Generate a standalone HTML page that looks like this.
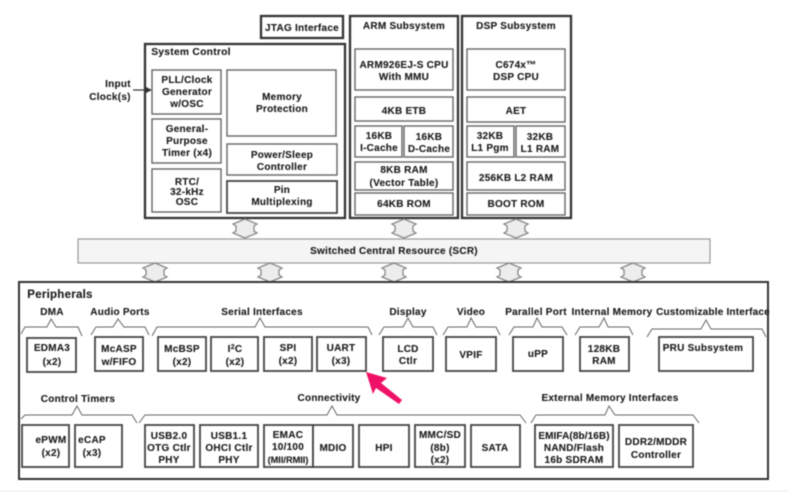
<!DOCTYPE html>
<html>
<head>
<meta charset="utf-8">
<style>
html,body{margin:0;padding:0;background:#fff;width:788px;height:492px;overflow:hidden}
svg{display:block;filter:blur(.45px)}
text{font-family:"Liberation Sans",Arial,sans-serif;font-weight:700;font-size:10px;fill:#1c1c1c;text-anchor:middle;letter-spacing:.25px;stroke:#1c1c1c;stroke-width:.12px}
.b{fill:#fff;stroke:#666;stroke-width:1.4}
.d{fill:#fff;stroke:#444;stroke-width:1.8}
.o{fill:#fff;stroke:#333;stroke-width:2.3}
.br{fill:none;stroke:#666;stroke-width:1}
.c{fill:#ededed;stroke:#888;stroke-width:1.3}
</style>
</head>
<body>
<svg width="788" height="492" viewBox="0 0 788 492" xmlns="http://www.w3.org/2000/svg">
<rect x="0" y="490.5" width="788" height="1.5" fill="#f0f0f0"/>

<!-- top containers -->
<rect class="o" x="261" y="16" width="82" height="22"/>
<text x="302" y="31">JTAG Interface</text>
<rect class="o" x="145" y="44" width="200" height="174"/>
<text x="191" y="55" style="font-size:10.3px">System Control</text>
<rect class="o" x="350" y="16" width="108" height="202"/>
<text x="404" y="29">ARM Subsystem</text>
<rect class="o" x="462" y="16" width="109" height="202"/>
<text x="516" y="29">DSP Subsystem</text>

<!-- system control -->
<rect class="b" x="152" y="70" width="69" height="44"/>
<text x="187" y="83">PLL/Clock</text><text x="187" y="95">Generator</text><text x="187" y="107">w/OSC</text>
<rect class="b" x="152" y="119" width="69" height="44"/>
<text x="187" y="132">General-</text><text x="187" y="144">Purpose</text><text x="187" y="156">Timer (x4)</text>
<rect class="b" x="152" y="169" width="69" height="43"/>
<text x="187" y="185">RTC/</text><text x="187" y="195">32-kHz</text><text x="187" y="205">OSC</text>
<rect class="b" x="227" y="70" width="109" height="66"/>
<text x="282" y="100">Memory</text><text x="282" y="112">Protection</text>
<rect class="b" x="227" y="144" width="110" height="31"/>
<text x="282" y="158">Power/Sleep</text><text x="282" y="170">Controller</text>
<rect class="d" x="227" y="181" width="110" height="32"/>
<text x="282" y="193">Pin</text><text x="282" y="205">Multiplexing</text>

<text x="118" y="87">Input</text><text x="110" y="100">Clock(s)</text>
<line x1="133" y1="90" x2="146" y2="90" stroke="#333" stroke-width="1.2"/>
<polygon points="152,90 144,86 144,94" fill="#333"/>

<!-- ARM -->
<rect class="b" x="355" y="49" width="98" height="41"/>
<text x="404" y="68">ARM926EJ-S CPU</text><text x="404" y="80">With MMU</text>
<rect class="b" x="355" y="97" width="98" height="24"/>
<text x="404" y="114">4KB ETB</text>
<rect class="b" x="355" y="126" width="47" height="31"/>
<text x="379" y="139">16KB</text><text x="379" y="151">I-Cache</text>
<rect class="b" x="404" y="126" width="49" height="31"/>
<text x="429" y="140">16KB</text><text x="429" y="152">D-Cache</text>
<rect class="b" x="355" y="162" width="98" height="28"/>
<text x="404" y="173">8KB RAM</text><text x="404" y="186">(Vector Table)</text>
<rect class="b" x="355" y="193" width="98" height="22"/>
<text x="404" y="207">64KB ROM</text>

<!-- DSP -->
<rect class="b" x="467" y="49" width="98" height="41"/>
<text x="516" y="68">C674x™</text><text x="516" y="80">DSP CPU</text>
<rect class="b" x="467" y="97" width="98" height="25"/>
<text x="516" y="114">AET</text>
<rect class="b" x="467" y="126" width="47" height="31"/>
<text x="490" y="139">32KB</text><text x="490" y="151">L1 Pgm</text>
<rect class="b" x="516" y="126" width="49" height="31"/>
<text x="540" y="140">32KB</text><text x="540" y="152">L1 RAM</text>
<rect class="b" x="467" y="162" width="98" height="28"/>
<text x="516" y="181">256KB L2 RAM</text>
<rect class="b" x="467" y="193" width="98" height="22"/>
<text x="516" y="207">BOOT ROM</text>

<!-- connectors -->
<polygon class="c" points="245,219 257,224 254,226 254,231 257,233 245,238 233,233 236,231 236,226 233,224"/>
<polygon class="c" points="404,219 416,224 413,226 413,231 416,233 404,238 392,233 395,231 395,226 392,224"/>
<polygon class="c" points="516,219 528,224 525,226 525,231 528,233 516,238 504,233 507,231 507,226 504,224"/>

<!-- SCR -->
<rect x="78" y="239" width="632" height="24" fill="#f5f5f5" stroke="#999" stroke-width="1.2"/>
<text x="394" y="254">Switched Central Resource (SCR)</text>

<polygon class="c" points="155,263 167,268 164,270 164,275 167,277 155,282 143,277 146,275 146,270 143,268"/>
<polygon class="c" points="270,263 282,268 279,270 279,275 282,277 270,282 258,277 261,275 261,270 258,268"/>
<polygon class="c" points="394,263 406,268 403,270 403,275 406,277 394,282 382,277 385,275 385,270 382,268"/>
<polygon class="c" points="509,263 521,268 518,270 518,275 521,277 509,282 497,277 500,275 500,270 497,268"/>
<polygon class="c" points="633,263 645,268 642,270 642,275 645,277 633,282 621,277 624,275 624,270 621,268"/>

<!-- peripherals -->
<rect x="19" y="282" width="749" height="197" fill="#fff" stroke="#333" stroke-width="2"/>
<text x="60" y="298" style="font-size:11.5px">Peripherals</text>

<text x="52" y="315">DMA</text>
<text x="120" y="315">Audio Ports</text>
<text x="262" y="315">Serial Interfaces</text>
<text x="408" y="315">Display</text>
<text x="471" y="315">Video</text>
<text x="536" y="315">Parallel Port</text>
<text x="612" y="315">Internal Memory</text>
<text x="713" y="315" style="letter-spacing:.2px">Customizable Interface</text>

<polyline class="br" points="21,334 25,327 47,327 51,319 56,327 78,327 82,336"/>
<polyline class="br" points="91,335 96,327 113,327 118,319 124,327 145,327 149,335"/>
<polyline class="br" points="152,336 157,327 255,327 260,318 265,327 368,327 372,335"/>
<polyline class="br" points="379,335 384,327 403,327 408,318 413,327 433,327 437,335"/>
<polyline class="br" points="443,335 448,327 467,327 471,318 476,327 496,327 500,335"/>
<polyline class="br" points="509,335 514,327 533,327 537,318 542,327 562,327 567,335"/>
<polyline class="br" points="575,335 580,327 599,327 604,318 608,327 629,327 633,335"/>
<polyline class="br" points="647,337 652,329 701,329 706,320 711,329 762,329 766,337"/>

<rect class="d" x="27" y="338" width="49" height="34"/>
<text x="52" y="351">EDMA3</text><text x="52" y="365">(x2)</text>
<rect class="d" x="95" y="337" width="48" height="34"/>
<text x="119" y="352">McASP</text><text x="119" y="365">w/FIFO</text>
<rect class="d" x="158" y="337" width="48" height="34"/>
<text x="182" y="352">McBSP</text><text x="182" y="365">(x2)</text>
<rect class="d" x="211" y="337" width="47" height="34"/>
<text x="235" y="352">I<tspan dy="-3" style="font-size:7px">2</tspan><tspan dy="3">C</tspan></text><text x="235" y="365">(x2)</text>
<rect class="d" x="264" y="337" width="48" height="34"/>
<text x="288" y="351">SPI</text><text x="288" y="364">(x2)</text>
<rect class="d" x="317" y="337" width="49" height="34"/>
<text x="341" y="351">UART</text><text x="341" y="364">(x3)</text>
<rect class="d" x="383" y="337" width="50" height="34"/>
<text x="408" y="352">LCD</text><text x="408" y="364">Ctlr</text>
<rect class="d" x="446" y="337" width="50" height="34"/>
<text x="471" y="358">VPIF</text>
<rect class="d" x="513" y="337" width="50" height="34"/>
<text x="538" y="357">uPP</text>
<rect class="d" x="580" y="337" width="49" height="34"/>
<text x="604" y="352">128KB</text><text x="604" y="364">RAM</text>
<rect class="d" x="659" y="337" width="94" height="34"/>
<text x="703" y="351">PRU Subsystem</text>

<text x="78" y="402">Control Timers</text>
<text x="329" y="401">Connectivity</text>
<text x="610" y="401">External Memory Interfaces</text>

<polyline class="br" points="21,419 25,415 72,415 77,406 82,415 132,415 137,423"/>
<polyline class="br" points="139,423 145,415 327,415 332,406 337,415 520,415 526,423"/>
<polyline class="br" points="531,423 536,415 605,415 609,406 615,415 693,415 699,423"/>

<rect class="d" x="22" y="425" width="47" height="42"/>
<text x="51" y="443">ePWM</text><text x="51" y="456">(x2)</text>
<rect class="d" x="75" y="425" width="47" height="42"/>
<text x="92" y="443">eCAP</text><text x="92" y="456">(x3)</text>
<rect class="d" x="145" y="425" width="49" height="42"/>
<text x="169" y="439">USB2.0</text><text x="169" y="451">OTG Ctlr</text><text x="169" y="463">PHY</text>
<rect class="d" x="200" y="425" width="58" height="42"/>
<text x="229" y="439">USB1.1</text><text x="229" y="451">OHCI Ctlr</text><text x="229" y="463">PHY</text>
<rect class="d" x="264" y="425" width="49" height="42"/>
<text x="288" y="438">EMAC</text><text x="288" y="450">10/100</text><text x="288" y="463" style="font-size:9.2px;letter-spacing:0">(MII/RMII)</text>
<rect class="d" x="313" y="425" width="40" height="42"/>
<text x="333" y="451">MDIO</text>
<rect class="d" x="359" y="425" width="50" height="42"/>
<text x="384" y="451">HPI</text>
<rect class="d" x="415" y="425" width="50" height="42"/>
<text x="440" y="438">MMC/SD</text><text x="440" y="451">(8b)</text><text x="440" y="463">(x2)</text>
<rect class="d" x="471" y="425" width="49" height="42"/>
<text x="495" y="451">SATA</text>
<rect class="d" x="535" y="425" width="78" height="42"/>
<text x="574" y="439" style="letter-spacing:.1px">EMIFA(8b/16B)</text><text x="574" y="451">NAND/Flash</text><text x="574" y="463">16b SDRAM</text>
<rect class="d" x="619" y="425" width="74" height="42"/>
<text x="656" y="445">DDR2/MDDR</text><text x="656" y="458">Controller</text>

<!-- pink arrow -->
<polygon points="366,372 387,378 381,383 402,400 399,404 376,388 373,394" fill="#ee1166"/>
</svg>
</body>
</html>
